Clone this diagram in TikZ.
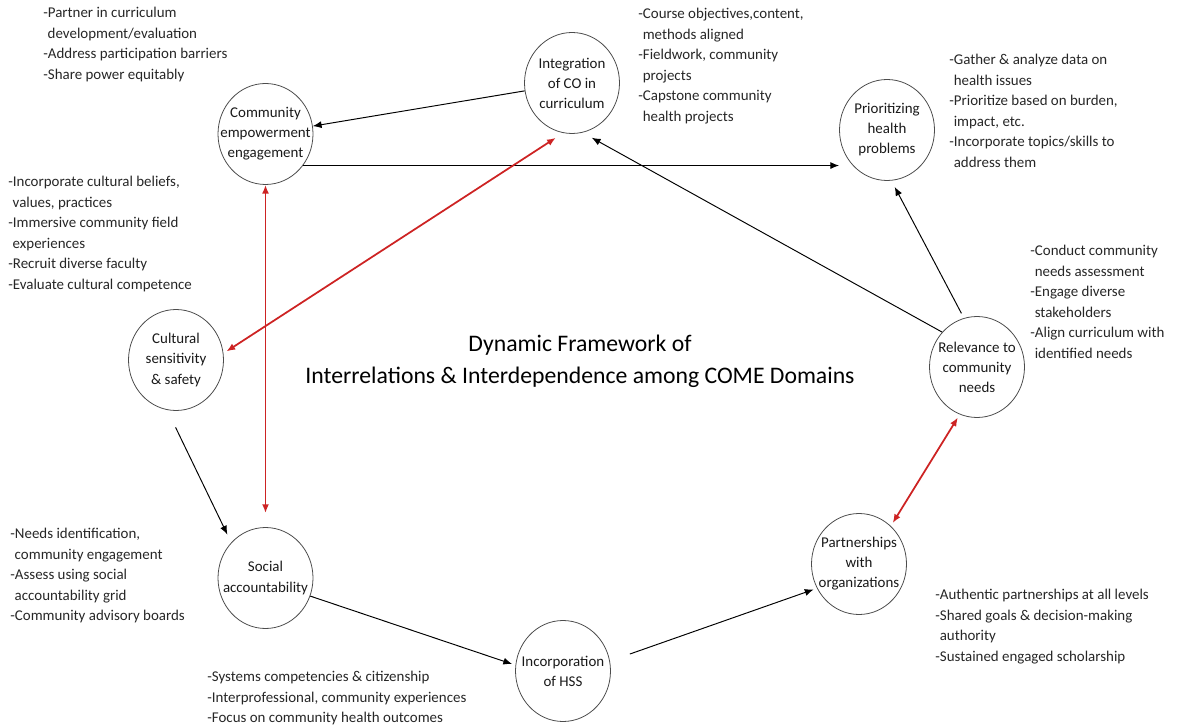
\documentclass[tikz,border=0pt]{standalone}
\usepackage{fontspec}
\setmainfont{Carlito}
\usetikzlibrary{arrows.meta,shapes.geometric}
\definecolor{arrowred}{RGB}{205,35,35}
\newcommand{\indnt}{\hspace*{2.5pt}}

\begin{document}
\begin{tikzpicture}[
    ringnode/.style={draw=black!70, line width=0.45pt, ellipse, minimum width=1.9cm, minimum height=2.02cm, inner sep=0pt},
    dtext/.style={align=center, inner sep=0pt, text=black!90, font=\fontsize{8.5}{11.4}\selectfont},
    notes/.style={anchor=north west, inner sep=0pt, align=left, text=black!85, font=\fontsize{8.5}{11.7}\selectfont},
    flow/.style={-{Latex[length=5pt,width=4pt]}, line width=0.55pt},
    link/.style={{Latex[length=5pt,width=4pt]}-{Latex[length=5pt,width=4pt]}, line width=1pt, draw=arrowred}
]
    \useasboundingbox (0,0) rectangle (23.58,14.54);

    \node[ringnode, label={[dtext]center:Community\\empowerment\\engagement}] (comm) at (5.31,11.86) {};
    \node[ringnode, label={[dtext]center:Integration\\of CO in\\curriculum}] (integ) at (11.44,12.88) {};
    \node[ringnode, label={[dtext]center:Prioritizing\\health\\problems}] (prior) at (17.74,11.94) {};
    \node[ringnode, label={[dtext]center:Cultural\\sensitivity\\\& safety}] (cult) at (3.52,7.34) {};
    \node[ringnode, label={[dtext]center:Relevance to\\community\\needs}] (relev) at (19.54,7.20) {};
    \node[ringnode, label={[dtext]center:Social\\accountability}] (social) at (5.31,2.98) {};
    \node[ringnode, label={[dtext]center:Incorporation\\of HSS}] (hss) at (11.26,1.12) {};
    \node[ringnode, label={[dtext]center:Partnerships\\with\\organizations}] (partner) at (17.18,3.26) {};

    \node[align=center, inner sep=0pt, font=\fontsize{13.5}{18}\selectfont] (title) at (11.60,7.32) {Dynamic Framework of\\Interrelations \& Interdependence among COME Domains};

    \node[notes] (n-comm) at (0.86,14.40) {-Partner in curriculum\\\indnt development/evaluation\\-Address participation barriers\\-Share power equitably};
    \node[notes] (n-integ) at (12.76,14.38) {-Course objectives,content,\\\indnt methods aligned\\-Fieldwork, community\\\indnt projects\\-Capstone community\\\indnt health projects};
    \node[notes] (n-prior) at (18.98,13.46) {-Gather \& analyze data on\\\indnt health issues\\-Prioritize based on burden,\\\indnt impact, etc.\\-Incorporate topics/skills to\\\indnt address them};
    \node[notes] (n-cult) at (0.16,11.02) {-Incorporate cultural beliefs,\\\indnt values, practices\\-Immersive community field\\\indnt experiences\\-Recruit diverse faculty\\-Evaluate cultural competence};
    \node[notes] (n-relev) at (20.60,9.64) {-Conduct community\\\indnt needs assessment\\-Engage diverse\\\indnt stakeholders\\-Align curriculum with\\\indnt identified needs};
    \node[notes] (n-social) at (0.20,3.98) {-Needs identification,\\\indnt community engagement\\-Assess using social\\\indnt accountability grid\\-Community advisory boards};
    \node[notes] (n-hss) at (4.14,1.12) {-Systems competencies \& citizenship\\-Interprofessional, community experiences\\-Focus on community health outcomes};
    \node[notes] (n-partner) at (18.70,2.76) {-Authentic partnerships at all levels\\-Shared goals \& decision-making\\\indnt authority\\-Sustained engaged scholarship};

    \draw[flow] (integ) -- (comm);
    \draw[flow] (comm.-40) -- (comm.-40 -| prior.west);
    \draw[flow, shorten >=6pt] (relev.135) -- (integ.-78);
    \draw[flow, shorten <=3pt, shorten >=4pt] (relev.105) -- (prior.-85);
    \draw[flow, shorten <=11pt, shorten >=5pt] (cult.-100) -- (social.134);
    \draw[flow, shorten >=2pt] (social.-22) -- (hss.173);
    \draw[flow, shorten <=12pt, shorten >=2pt] (hss.12) -- (partner.-150);
    \draw[link, shorten <=5pt, shorten >=2pt] (integ.-100) -- (cult.8);
    \draw[link, shorten >=8pt] (comm.south) -- (social.north);
    \draw[link, shorten <=2pt, shorten >=2pt] (relev.-110) -- (partner.50);
\end{tikzpicture}
\end{document}
